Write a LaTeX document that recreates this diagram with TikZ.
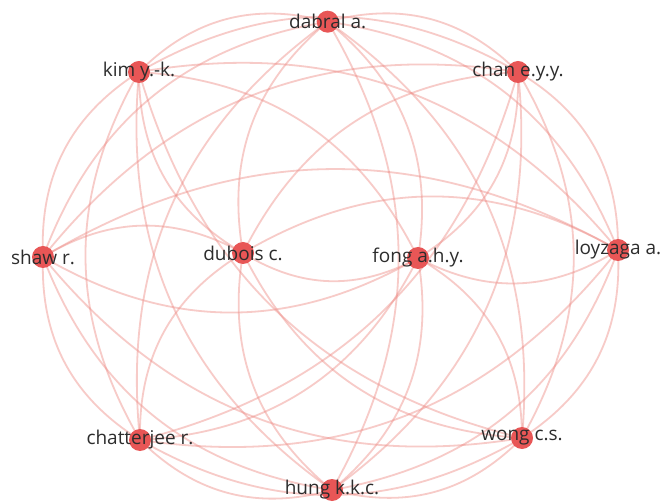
\documentclass[tikz,border=0pt]{standalone}
\usepackage{fontspec}
\setmainfont{Open Sans}
\definecolor{edgec}{RGB}{238,140,134}
\definecolor{nodec}{RGB}{232,86,86}
\definecolor{txtc}{RGB}{45,45,45}
\begin{document}
\begin{tikzpicture}[x=1pt,y=1pt,
  link/.style={draw=edgec,draw opacity=0.45,line width=1.8pt},
  bl/.style={bend left=30},
  dot/.style={circle,fill=nodec,inner sep=0pt,minimum size=22pt},
  lab/.style={text=txtc,font=\fontsize{19}{21}\selectfont,inner sep=0pt}]
\useasboundingbox (0,0) rectangle (663,503);
\fill[white] (0,0) rectangle (663,503);
\coordinate (n0) at (327.7,481.3);
\coordinate (n1) at (518,431);
\coordinate (n2) at (618,253);
\coordinate (n3) at (418,245);
\coordinate (n4) at (522,65);
\coordinate (n5) at (332,13);
\coordinate (n6) at (140,63);
\coordinate (n7) at (43,246);
\coordinate (n8) at (243,250);
\coordinate (n9) at (139,431);
\foreach \a/\b in {0/1,0/2,0/3,0/4,0/5,6/0,7/0,8/0,9/0,
  1/2,1/3,1/4,1/5,1/6,7/1,8/1,9/1,
  2/3,2/4,2/5,2/6,7/2,8/2,9/2,
  3/4,3/5,3/6,3/7,3/8,9/3,
  4/5,4/6,4/7,4/8,4/9,
  5/6,5/7,5/8,5/9,
  6/7,6/8,6/9,
  7/8,7/9,8/9}
  \draw[link] (n\a) to[bl] (n\b);
\foreach \i in {0,...,9} \node[dot] (d\i) at (n\i) {};
\node[lab] (l0) at (n0) {dabral a.};
\node[lab] (l1) at (n1) {chan e.y.y.};
\node[lab] (l2) at (n2) {loyzaga a.};
\node[lab] (l3) at (n3) {fong a.h.y.};
\node[lab] (l4) at (n4) {wong c.s.};
\node[lab] (l5) at (n5) {hung k.k.c.};
\node[lab] (l6) at (n6) {chatterjee r.};
\node[lab] (l7) at (n7) {shaw r.};
\node[lab] (l8) at (n8) {dubois c.};
\node[lab] (l9) at (n9) {kim y.-k.};
\end{tikzpicture}
\end{document}
